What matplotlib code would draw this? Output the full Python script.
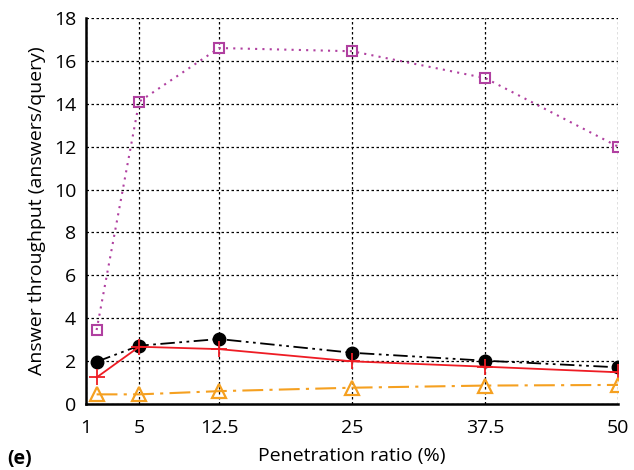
import matplotlib
matplotlib.use("Agg")
import matplotlib.pyplot as plt

plt.rcParams['font.family'] = ['Open Sans', 'DejaVu Sans']

# penetration ratio (%)
ratio = [1, 5, 12.5, 25, 37.5, 50]
tick_pos = [0, 5, 12.5, 25, 37.5, 50]
tick_labels = ['1', '5', '12.5', '25', '37.5', '50']

# answer throughput (answers/query)
magenta_sq = [3.45, 14.1, 16.6, 16.45, 15.2, 12.0]
black_circ = [1.97, 2.72, 3.03, 2.39, 2.02, 1.71]
red_plus = [1.24, 2.67, 2.56, 1.99, 1.74, 1.48]
orange_tri = [0.45, 0.45, 0.6, 0.76, 0.86, 0.89]

fig = plt.figure(figsize=(6.34, 4.70), dpi=100)
ax = fig.add_axes([0.1356, 0.1404, 0.8394, 0.8213])

ax.plot(ratio, magenta_sq, color='#b040a0', linestyle=(0, (1, 2.5)), linewidth=1.5,
        marker='s', markersize=7, markerfacecolor='none', markeredgewidth=1.5)
ax.plot(ratio, black_circ, color='black', linestyle=(0, (8, 2.5, 1.5, 2.5, 1.5, 2.5)), linewidth=1.3,
        marker='o', markersize=9)
ax.plot(ratio, red_plus, color='#ee1c24', linestyle='-', linewidth=1.3,
        marker='+', markersize=11, markeredgewidth=1.3)
ax.plot(ratio, orange_tri, color='#f5a020', linestyle=(0, (10, 3, 1.5, 3)), linewidth=1.5,
        marker='^', markersize=10, markerfacecolor='none', markeredgewidth=1.6)

ax.set_xlim(0, 50)
ax.set_ylim(0, 18)
ax.set_xticks(tick_pos)
ax.set_xticklabels(tick_labels)
ax.set_yticks(range(0, 19, 2))
ax.tick_params(length=0, labelsize=14)
ax.tick_params(axis='x', pad=11)
ax.tick_params(axis='y', pad=7)
ax.grid(True, color='black', linestyle=(0, (2, 2)), linewidth=0.9)
for s in ['top', 'right']:
    ax.spines[s].set_visible(False)
for s in ['left', 'bottom']:
    ax.spines[s].set_linewidth(1.8)

ax.set_xlabel('Penetration ratio (%)', fontsize=14, labelpad=7)
ax.set_ylabel('Answer throughput (answers/query)', fontsize=14, labelpad=6)
fig.text(0.012, 0.012, '(e)', fontsize=14, fontweight='bold')

fig.savefig('out.png', dpi=100)
